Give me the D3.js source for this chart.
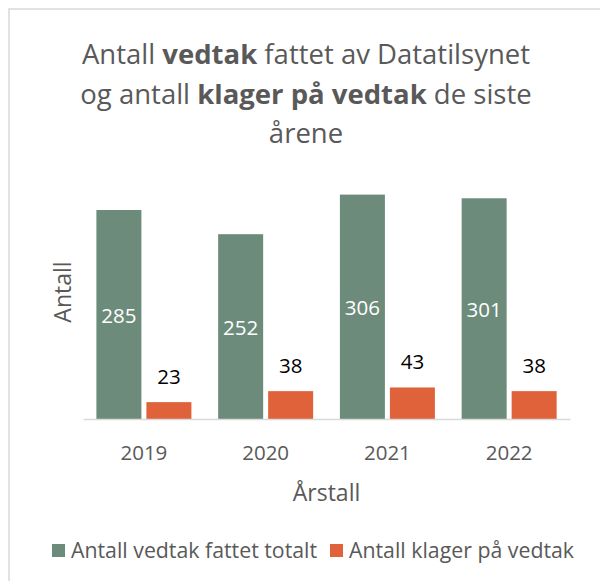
<!DOCTYPE html>
<html><head><meta charset="utf-8">
<script src="https://cdn.jsdelivr.net/npm/d3@7"></script>
<style>
html,body{margin:0;padding:0;background:#fff;}
svg{display:block;font-family:"Open Sans", sans-serif;}
</style></head>
<body>
<svg id="chart" width="600" height="581"></svg>
<script>
const years = ["2019", "2020", "2021", "2022"];
const seriesNames = ["Antall vedtak fattet totalt", "Antall klager på vedtak"];
const vedtak = [285, 252, 306, 301];
const klager = [23, 38, 43, 38];
const colors = ["#6D8B7A", "#DF623A"];
const titleLines = [
  [["Antall ", false], ["vedtak", true], [" fattet av Datatilsynet", false]],
  [["og antall ", false], ["klager på vedtak", true], [" de siste", false]],
  [["årene", false]]
];

const FONT = "'Open Sans', sans-serif";
const svg = d3.select("#chart");

// chart border
svg.append("rect").attr("x", 9).attr("y", 9).attr("width", 620).attr("height", 620)
  .attr("fill", "#fff").attr("stroke", "#D9D9D9").attr("stroke-width", 1.5);

const plotLeft = 83, plotRight = 570, baseY = 419;
const x0 = d3.scaleBand().domain(years).range([plotLeft, plotRight]).padding(0);
const x1 = d3.scaleBand().domain([0, 1]).range([13.4, 108.4]).paddingInner(0.1);
const y = d3.scaleLinear().domain([0, 300]).range([baseY, 199]);

const data = years.map((yr, i) => ({year: yr, vals: [vedtak[i], klager[i]]}));

// title
const title = svg.append("text").attr("text-anchor", "middle").attr("fill", "#595959")
  .attr("font-size", 27.5);
titleLines.forEach((parts, li) => {
  const line = title.append("tspan").attr("x", 306).attr("y", 64 + li * 39.5);
  parts.forEach(([t, b], k) => {
    const ts = k === 0 ? line : title.append("tspan");
    ts.text(t).attr("font-weight", b ? "bold" : "normal");
  });
});

// bars
const g = svg.append("g");
data.forEach(d => {
  d.vals.forEach((v, s) => {
    const bx = x0(d.year) + x1(s);
    g.append("rect").attr("x", bx).attr("y", y(v))
      .attr("width", x1.bandwidth()).attr("height", y(0) - y(v))
      .attr("fill", colors[s]);
    if (s === 0) {
      g.append("text").attr("x", bx + x1.bandwidth() / 2)
        .attr("y", (y(v) + y(0)) / 2 + 8)
        .attr("text-anchor", "middle").attr("fill", "#fff").attr("font-size", 20.5)
        .text(v);
    } else {
      g.append("text").attr("x", bx + x1.bandwidth() / 2)
        .attr("y", y(v) - 18)
        .attr("text-anchor", "middle").attr("fill", "#000").attr("font-size", 20.5)
        .text(v);
    }
  });
});

// x axis
const xAxis = svg.append("g").attr("transform", `translate(0,${baseY})`)
  .call(d3.axisBottom(x0).tickSize(0).tickPadding(0));
xAxis.select(".domain").attr("stroke", "#D9D9D9").attr("stroke-width", 1.5);
xAxis.selectAll("text").attr("font-family", FONT)
  .attr("font-size", 20.5).attr("fill", "#595959").attr("dy", null).attr("y", 41);

// axis titles
svg.append("text").attr("x", (plotLeft + plotRight) / 2).attr("y", 501)
  .attr("text-anchor", "middle").attr("fill", "#595959").attr("font-size", 23)
  .text("Årstall");
svg.append("text").attr("transform", "translate(71,292) rotate(-90)")
  .attr("text-anchor", "middle").attr("fill", "#595959").attr("font-size", 23)
  .text("Antall");

// legend
const leg = svg.append("g");
const legX = [52, 330];
seriesNames.forEach((n, i) => {
  leg.append("rect").attr("x", legX[i]).attr("y", 544).attr("width", 13).attr("height", 13)
    .attr("fill", colors[i]);
  leg.append("text").attr("x", legX[i] + 19).attr("y", 558).attr("fill", "#595959")
    .attr("font-size", 21.3).text(n);
});
</script>
</body></html>
